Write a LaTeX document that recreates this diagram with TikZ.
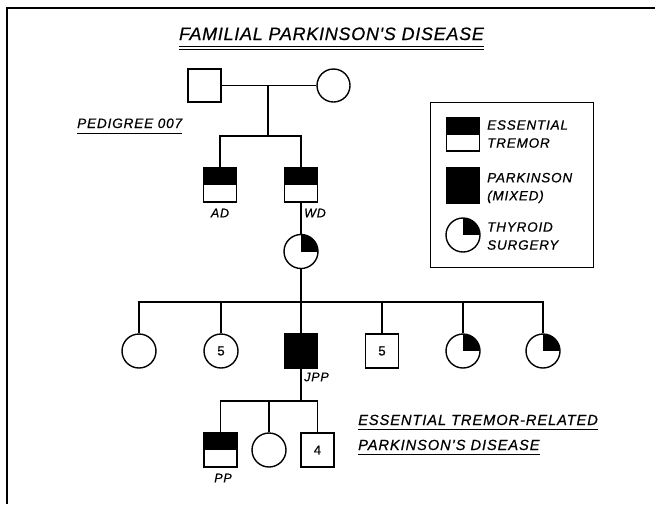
\documentclass[tikz,border=0pt]{standalone}
\usepackage{fontspec}
\setmainfont{Liberation Sans}[LetterSpace=6, FakeBold=0.6]
\newfontfamily\ttlfam{Liberation Sans}[LetterSpace=4, FakeBold=0.6]
\begin{document}
\begin{tikzpicture}[x=1pt,y=-1pt]
\tikzset{
  sym/.style={draw, line width=1.4pt, inner sep=0pt},
  male/.style={sym, rectangle, minimum width=33pt, minimum height=34pt},
  female/.style={sym, circle, minimum size=34pt},
  etsym/.style={path picture={\fill[black] (path picture bounding box.north west) rectangle (path picture bounding box.east);}},
  thysym/.style={path picture={\fill[black] (path picture bounding box.center) rectangle (path picture bounding box.north east);}},
  pdsym/.style={fill=black},
  conn/.style={line width=1.4pt},
  uline/.style={line width=1pt},
  lbl/.style={font=\itshape\fontsize{12.5}{14}\selectfont, inner sep=0pt},
  num/.style={font=\fontsize{13}{15}\selectfont},
  ttlfont/.style={font=\ttlfam\itshape\fontsize{18}{20}\selectfont, inner sep=0pt},
  midfont/.style={font=\itshape\fontsize{13.6}{16}\selectfont, inner sep=0pt},
  capfont/.style={font=\itshape\fontsize{14.7}{17}\selectfont, inner sep=0pt},
  legfont/.style={font=\itshape\fontsize{13.5}{18}\selectfont, inner sep=0pt, align=left, anchor=west},
}
\useasboundingbox (0,0) rectangle (655,504);
% frame
\draw[line width=2pt] (7,504) -- (7,8) -- (655,8);

% title
\node[ttlfont, anchor=base] (ttl) at (331.5,40) {FAMILIAL PARKINSON'S DISEASE};
\draw[uline] ([yshift=-6pt]ttl.base west) -- ([yshift=-6pt]ttl.base east);
\draw[uline] ([yshift=-9pt]ttl.base west) -- ([yshift=-9pt]ttl.base east);

\node[midfont, anchor=base west] (ped) at (77,128) {PEDIGREE 007};
\draw[uline] ([yshift=-5pt]ped.base west) -- ([yshift=-5pt]ped.base east);

% generation I
\node[male, minimum height=33pt] (I1) at (204.5,85.5) {};
\node[female, minimum size=33pt] (I2) at (333.5,85.5) {};
\draw[conn] (I1.east) -- (I2.west);
\coordinate (m1) at (268,85.5);
\coordinate (s1) at (268,136);
\draw[conn] (m1) -- (s1);

% generation II
\node[male, etsym] (AD) at (220,185) {};
\node[male, etsym] (WD) at (301,185) {};
\draw[conn] (AD.north) -- (AD.north |- s1) -- (WD.north |- s1) -- (WD.north);
\node[lbl] (lAD) at (220,213) {AD};
\node[lbl] (lWD) at (315,213) {WD};

% generation III
\node[female, thysym] (T) at (301,251.5) {};
\draw[conn] (WD.south) -- (T.north);
\coordinate (s2) at (301,302);
\draw[conn] (T.south) -- (s2);

% generation IV
\node[female] (C1) at (139,351) {};
\node[female, num] (C2) at (221,351) {5};
\node[male, pdsym] (JPP) at (301,351) {};
\node[male, num] (C4) at (382,351) {5};
\node[female, thysym] (C5) at (463,351) {};
\node[female, thysym] (C6) at (543,351) {};
\draw[conn] (C1.north) -- (C1.north |- s2) -- (C6.north |- s2) -- (C6.north);
\draw[conn] (C2.north) -- (C2.north |- s2);
\draw[conn] (JPP.north) -- (JPP.north |- s2);
\draw[conn] (C4.north) -- (C4.north |- s2);
\draw[conn] (C5.north) -- (C5.north |- s2);
\node[lbl] (lJPP) at (316.5,377) {JPP};

% generation V
\coordinate (s3) at (301,401);
\draw[conn] (JPP.south) -- (s3);
\node[male, etsym] (PP) at (220.5,450) {};
\node[female] (D2) at (269,450) {};
\node[male, num] (D3) at (317.5,450) {4};
\draw[conn] (PP.north) -- (PP.north |- s3) -- (D3.north |- s3) -- (D3.north);
\draw[conn] (D2.north) -- (D2.north |- s3);
\node[lbl] (lPP) at (223,478) {PP};

% caption bottom right
\node[capfont, anchor=base west] (cap1) at (358,425) {ESSENTIAL TREMOR-RELATED};
\draw[uline] ([yshift=-4pt]cap1.base west) -- ([yshift=-4pt]cap1.base east);
\node[capfont, anchor=base west] (cap2) at (358,450) {PARKINSON'S DISEASE};
\draw[uline] ([yshift=-4pt]cap2.base west) -- ([yshift=-4pt]cap2.base east);

% legend
\node[draw, line width=1.4pt, minimum width=163pt, minimum height=165pt, anchor=north west, inner sep=0pt] (leg) at (430,102) {};
\node[male, etsym, minimum height=33pt] (L1) at (463,134.5) {};
\node[male, pdsym, minimum height=35pt] (L2) at (463,185.5) {};
\node[female, thysym] (L3) at (463,235) {};
\node[legfont] (t1) at (487,134) {ESSENTIAL\\TREMOR};
\node[legfont] (t2) at (487,188) {PARKINSON\\(MIXED)};
\node[legfont] (t3) at (487,236) {THYROID\\SURGERY};
\end{tikzpicture}
\end{document}
